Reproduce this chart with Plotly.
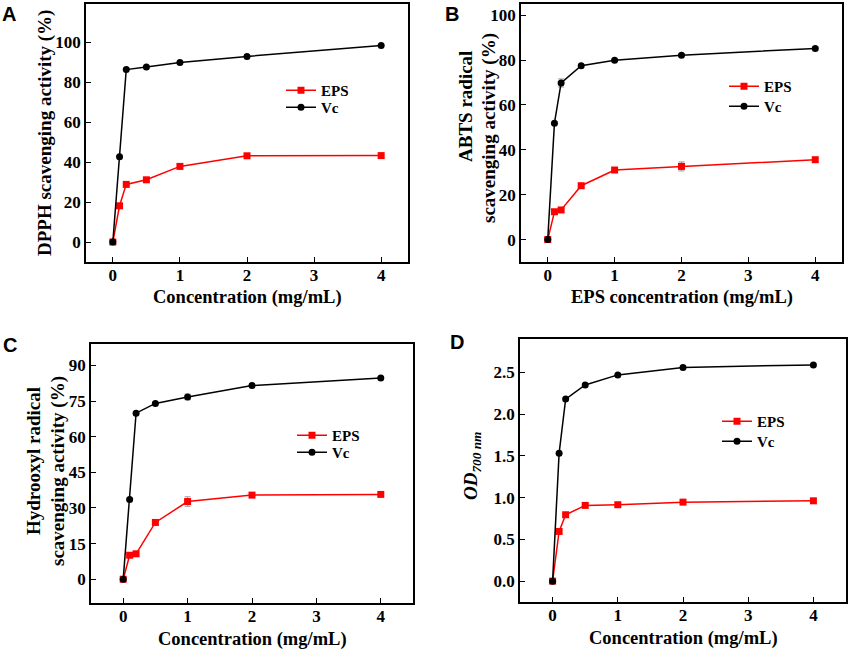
import plotly.graph_objects as go

# concentrations (mg/mL)
conc = [0, 0.1, 0.2, 0.5, 1, 2, 4]

# A: DPPH scavenging activity (%)
dpph_eps = [0, 18.1, 28.8, 31.1, 37.8, 43.1, 43.2]
dpph_vc = [0, 42.6, 86.2, 87.5, 89.7, 92.8, 98.2]

# B: ABTS radical scavenging activity (%)
abts_eps = [0, 12.4, 13.2, 24.0, 31.0, 32.6, 35.6]
abts_eps_err = [0, 0.6, 0.5, 0.6, 0.8, 2.0, 0.8]
abts_vc = [0, 51.9, 69.8, 77.5, 79.9, 82.2, 85.2]
abts_vc_err = [0, 0.5, 1.8, 0.6, 0.5, 0.6, 0.6]

# C: hydroxyl radical scavenging activity (%)
oh_eps = [0, 10.1, 10.7, 23.9, 32.7, 35.4, 35.7]
oh_eps_err = [0, 0.5, 0.6, 0.7, 2.0, 0.5, 0.5]
oh_vc = [0, 33.6, 69.9, 74.0, 76.7, 81.5, 84.7]
oh_vc_err = [0, 0.6, 0.6, 0.6, 1.2, 0.8, 0.5]

# D: reducing power, OD700
od_eps = [0, 0.595, 0.795, 0.907, 0.915, 0.946, 0.962]
od_vc = [0, 1.533, 2.18, 2.35, 2.47, 2.56, 2.59]

x_ticks = [0, 1, 2, 3, 4]
y_ticks_a = [0, 20, 40, 60, 80, 100]
y_ticks_b = [0, 20, 40, 60, 80, 100]
y_ticks_c = [0, 15, 30, 45, 60, 75, 90]
y_ticks_d = [0.0, 0.5, 1.0, 1.5, 2.0, 2.5]

W, H = 851, 651
RED = "#ff0000"
FONT = "Liberation Serif"

# plot boxes in pixels: left, right, top, bottom
boxes = {
    "A": (86, 408, 4, 262),
    "B": (521, 842, 4, 262),
    "C": (91, 413, 344, 603),
    "D": (520, 846, 339, 602),
}

panels = [
    # key, eps, eps_err, vc, vc_err, yrange, yticks, yfmt, xtitle, xrange
    ("A", dpph_eps, None, dpph_vc, None, [-10, 119], y_ticks_a, "{:g}",
     "Concentration (mg/mL)", [-0.4, 4.4]),
    ("B", abts_eps, abts_eps_err, abts_vc, abts_vc_err, [-10, 105], y_ticks_b, "{:g}",
     "EPS concentration (mg/mL)", [-0.4, 4.4]),
    ("C", oh_eps, oh_eps_err, oh_vc, oh_vc_err, [-10, 99], y_ticks_c, "{:g}",
     "Concentration (mg/mL)", [-0.5, 4.5]),
    ("D", od_eps, None, od_vc, None, [-0.25, 2.9], y_ticks_d, "{:.1f}",
     "Concentration (mg/mL)", [-0.5, 4.5]),
]

# y titles: (text, centre x px, centre y px), one entry per line
y_titles = {
    "A": [("DPPH scavenging activity (%)", 45, 133)],
    "B": [("ABTS radical", 465, 107), ("scavenging activity (%)", 489, 128)],
    "C": [("Hydrooxyl radical", 33, 461), ("scavenging activity (%)", 58, 471)],
    "D": [("<i>OD<sub>700 nm</sub></i>", 472, 466)],
}

# legend anchors (pixels, top-left): x, EPS top, Vc top
legend_pos = {"A": (281, 74, 91), "B": (724, 70, 90), "C": (292, 419, 436), "D": (717, 405, 425)}
letter_pos = {"A": (9, 14), "B": (452, 14), "C": (10, 345), "D": (457, 342)}
xtitle_y = {"A": 298, "B": 298, "C": 639, "D": 638}

fig = go.Figure()
layout = {}


def err(e):
    if e is None:
        return None
    return dict(type="data", array=e, color="#9a9a9a", thickness=1, width=3)


def legend_style(x, y):
    return dict(
        x=x / W, y=1 - y / H, xanchor="left", yanchor="top",
        bgcolor="rgba(0,0,0,0)",
        font=dict(family=FONT, size=15, color="black", weight="bold"),
    )


def label(text, x, y, size, angle=0, family=FONT):
    fig.add_annotation(
        text="<b>" + text + "</b>", xref="paper", yref="paper",
        x=x / W, y=1 - y / H, xanchor="center", yanchor="middle",
        textangle=angle, showarrow=False,
        font=dict(family=family, size=size, color="black"),
    )


for i, (key, eps, eps_err, vc, vc_err, yr, yt, yfmt, xtitle, xr) in enumerate(panels):
    n = "" if i == 0 else str(i + 1)
    xa, ya = "x" + n, "y" + n
    leg1 = "legend" if i == 0 else "legend%d" % (2 * i + 1)
    leg2 = "legend%d" % (2 * i + 2)
    l, r, t, b = boxes[key]

    fig.add_trace(go.Scatter(
        x=conc, y=eps, name="EPS", mode="lines+markers",
        line=dict(color=RED, width=1.5),
        marker=dict(symbol="square", size=7, color=RED),
        error_y=err(eps_err),
        xaxis=xa, yaxis=ya, legend=leg1,
    ))
    fig.add_trace(go.Scatter(
        x=conc, y=vc, name="Vc", mode="lines+markers",
        line=dict(color="black", width=1.5),
        marker=dict(symbol="circle", size=7, color="black"),
        error_y=err(vc_err),
        xaxis=xa, yaxis=ya, legend=leg2,
    ))

    axis_common = dict(
        showline=True, linecolor="black", linewidth=1.5, mirror=True,
        ticks="inside", ticklen=5, tickcolor="black", tickwidth=1.2,
        showgrid=False, zeroline=False,
        tickfont=dict(family=FONT, size=17, color="black"),
    )
    layout["xaxis" + n] = dict(
        axis_common, domain=[l / W, r / W], anchor=ya,
        range=xr, tickvals=x_ticks,
        ticktext=["<b>%g</b>" % v for v in x_ticks],
        ticklabelstandoff=-3,
    )
    layout["yaxis" + n] = dict(
        axis_common, domain=[1 - b / H, 1 - t / H], anchor=xa,
        range=yr, tickvals=yt,
        ticktext=["<b>" + yfmt.format(v) + "</b>" for v in yt],
    )
    lx, ly1, ly2 = legend_pos[key]
    layout[leg1] = legend_style(lx, ly1)
    layout[leg2] = legend_style(lx, ly2)

    label(xtitle, (l + r) / 2, xtitle_y[key], 18.5)
    for text, tx, ty in y_titles[key]:
        label(text, tx, ty, 19, angle=-90)
    px, py = letter_pos[key]
    label(key, px, py, 20, family="Liberation Sans")

fig.update_layout(
    width=W, height=H,
    margin=dict(l=0, r=0, t=0, b=0),
    paper_bgcolor="white", plot_bgcolor="white",
    showlegend=True,
    **layout,
)

# drop the default 8px page margin so the figure sits at the window corner
fig.write_html(
    "out.html",
    config={"displayModeBar": False},
    post_script="document.body.style.margin='0';",
)
